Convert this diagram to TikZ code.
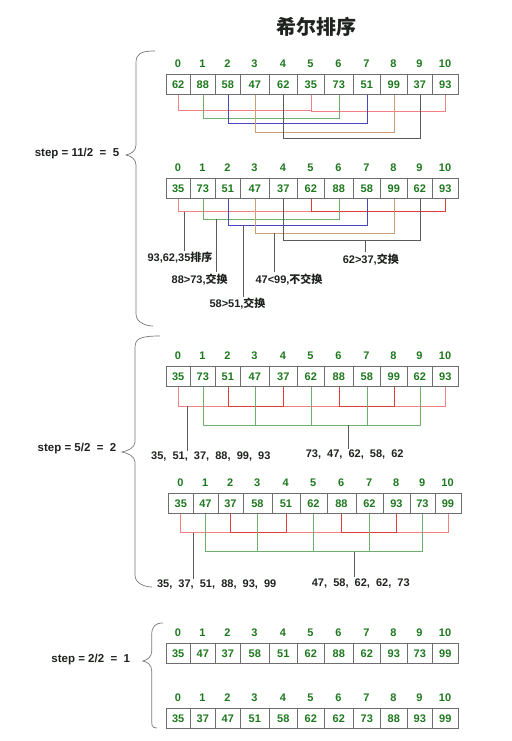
\documentclass[tikz,border=0pt]{standalone}
\usepackage{fontspec}
\setmainfont{Liberation Sans}
\newfontfamily\cjk{Noto Sans CJK SC}
\definecolor{numg}{RGB}{30,120,30}
\definecolor{boxg}{RGB}{110,110,110}
\definecolor{pinkc}{RGB}{240,130,130}
\definecolor{redc}{RGB}{225,60,60}
\definecolor{grnc}{RGB}{110,175,110}
\definecolor{bluc}{RGB}{70,70,190}
\definecolor{tanc}{RGB}{200,160,120}
\definecolor{gryc}{RGB}{90,90,90}
\definecolor{txtd}{RGB}{30,35,30}
\definecolor{brcc}{RGB}{120,120,120}
\def\bnd{{0,24.3,49.3,74.3,103.3,131.3,158.3,187.3,214.3,241.3,266.3,292.3}}
\tikzset{
  cell/.style={draw=boxg, line width=0.6pt, text=numg, font=\bfseries\fontsize{11}{11}\selectfont, inner sep=0pt, minimum height=20pt},
  idx/.style={text=numg, font=\bfseries\fontsize{11}{11}\selectfont, inner sep=0pt},
  lpink/.style={draw=pinkc, line width=0.6pt},
  lred/.style={draw=redc, line width=0.6pt},
  lgrn/.style={draw=grnc, line width=0.6pt},
  lblu/.style={draw=bluc, line width=0.6pt},
  ltan/.style={draw=tanc, line width=0.6pt},
  lgry/.style={draw=gryc, line width=0.6pt},
  lann/.style={draw=gryc, line width=0.6pt},
  ann/.style={text=txtd, font=\bfseries\fontsize{11}{11}\selectfont, inner sep=1pt},
  steplbl/.style={text=txtd, font=\bfseries\fontsize{11.5}{11.5}\selectfont, inner sep=0pt},
  brc/.style={draw=brcc, line width=0.7pt},
}
\newcommand\myarr[4]{%
  \foreach \val [count=\ci from 0] in {#4} {
    \pgfmathsetmacro\myxa{#2+\bnd[\ci]}
    \pgfmathsetmacro\myxb{#2+\bnd[\ci+1]}
    \pgfmathsetmacro\mycw{\myxb-\myxa}
    \node[cell, minimum width=\mycw pt, anchor=north west] (#1-\ci) at (\myxa,#3) {\val};
    \node[idx] (#1-l\ci) at ({(\myxa+\myxb)/2},#3-10) {\ci};
  }}
\newcommand\mybrk[4]{\draw[#1] (#2.south) -- (#2.south |- 0,#4) -- (#3.south |- 0,#4) -- (#3.south);}
\newcommand\myvert[3]{\draw[#1] (#2.south) -- (#2.south |- 0,#3);}
\newcommand\mybrace[7]{\draw[brc] (#1,#2) .. controls (#3+4,#2) and (#3,#2+3) .. (#3,#2+12) -- (#3,#5-10) .. controls (#3,#5-4) and (#4+5,#5-1) .. (#4,#5) .. controls (#4+5,#5+1) and (#3,#5+4) .. (#3,#5+10) -- (#3,#7-12) .. controls (#3,#7-3) and (#6-6,#7) .. (#6,#7);}
\begin{document}
\begin{tikzpicture}[x=1pt,y=-1pt]
\useasboundingbox (0,0) rectangle (511,741);
% title
\node[text=txtd, font=\cjk\bfseries\fontsize{20}{20}\selectfont, inner sep=0pt] (title) at (316.7,26.7) {希尔排序};
% braces and step labels
\mybrace{155}{51}{136}{126}{155}{153}{326}
\mybrace{160}{336}{135}{122}{452}{152}{587}
\mybrace{163}{623}{151.7}{142.7}{661}{157}{728}
\node[steplbl] (s1) at (77,154) {step = 11/2\ \ =\ \ 5};
\node[steplbl] (s2) at (77,448.3) {step = 5/2\ \ =\ \ 2};
\node[steplbl] (s3) at (90.8,660) {step = 2/2\ \ =\ \ 1};
% arrays
\myarr{a1}{165.7}{74}{62,88,58,47,62,35,73,51,99,37,93}
\myarr{a2}{165.7}{178}{35,73,51,47,37,62,88,58,99,62,93}
\myarr{a3}{165.7}{366}{35,73,51,47,37,62,88,58,99,62,93}
\myarr{a4}{168.3}{493}{35,47,37,58,51,62,88,62,93,73,99}
\myarr{a5}{165.7}{643}{35,47,37,58,51,62,88,62,93,73,99}
\myarr{a6}{165.7}{708}{35,37,47,51,58,62,62,73,88,93,99}
% step 5, first array
\mybrk{lpink}{a1-0}{a1-5}{110.5}
\mybrk{lpink}{a1-5}{a1-10}{111.5}
\mybrk{lgrn}{a1-1}{a1-6}{118.3}
\mybrk{lblu}{a1-2}{a1-7}{123.3}
\mybrk{ltan}{a1-3}{a1-8}{132.3}
\mybrk{lgry}{a1-4}{a1-9}{138.3}
% step 5, second array
\mybrk{lpink}{a2-0}{a2-5}{211.7}
\mybrk{lred}{a2-5}{a2-10}{211.7}
\mybrk{lgrn}{a2-1}{a2-6}{219.3}
\mybrk{lblu}{a2-2}{a2-7}{225}
\mybrk{ltan}{a2-3}{a2-8}{233.3}
\mybrk{lgry}{a2-4}{a2-9}{240}
\coordinate (q1) at (184.3,211.7);
\coordinate (q2) at (216,219.3);
\coordinate (q3) at (243.3,225);
\coordinate (q4) at (274,233.3);
\coordinate (q5) at (365,240);
\node[ann] (t1) at (180,257.7) {93,62,35{\cjk 排序}};
\node[ann] (t2) at (199.7,279.3) {88>73,{\cjk 交换}};
\node[ann] (t3) at (237.5,304) {58>51,{\cjk 交换}};
\node[ann] (t4) at (289,279.3) {47<99,{\cjk 不交换}};
\node[ann] (t5) at (370.8,259.3) {62>37,{\cjk 交换}};
\draw[lann] (q1) -- (q1 |- t1.north);
\draw[lann] (q2) -- (q2 |- t2.north);
\draw[lann] (q3) -- (q3 |- t3.north);
\draw[lann] (q4) -- (q4 |- t4.north);
\draw[lann] (q5) -- (q5 |- t5.north);
% step 2, first array
\mybrk{lpink}{a3-0}{a3-10}{406}
\mybrk{lred}{a3-2}{a3-4}{406}
\mybrk{lred}{a3-6}{a3-8}{406}
\mybrk{lgrn}{a3-1}{a3-9}{425}
\myvert{lgrn}{a3-3}{425}
\myvert{lgrn}{a3-5}{425}
\myvert{lgrn}{a3-7}{425}
\coordinate (q6) at (187.3,406);
\coordinate (q7) at (348.3,425);
\node[ann] (t6) at (210.8,456.7) {35,\ \ 51,\ \ 37,\ \ 88,\ \ 99,\ \ 93};
\node[ann] (t7) at (354.7,455) {73,\ \ 47,\ \ 62,\ \ 58,\ \ 62};
\draw[lann] (q6) -- (q6 |- t6.north);
\draw[lann] (q7) -- (q7 |- t7.north);
% step 2, second array
\mybrk{lpink}{a4-0}{a4-10}{532.7}
\mybrk{lred}{a4-2}{a4-4}{532.7}
\mybrk{lred}{a4-6}{a4-8}{532.7}
\mybrk{lgrn}{a4-1}{a4-9}{551.7}
\myvert{lgrn}{a4-3}{551.7}
\myvert{lgrn}{a4-5}{551.7}
\myvert{lgrn}{a4-7}{551.7}
\coordinate (q8) at (193.3,532.7);
\coordinate (q9) at (354,551.7);
\node[ann] (t8) at (216.7,585) {35,\ \ 37,\ \ 51,\ \ 88,\ \ 93,\ \ 99};
\node[ann] (t9) at (360.8,583.3) {47,\ \ 58,\ \ 62,\ \ 62,\ \ 73};
\draw[lann] (q8) -- (q8 |- t8.north);
\draw[lann] (q9) -- (q9 |- t9.north);
\end{tikzpicture}
\end{document}
